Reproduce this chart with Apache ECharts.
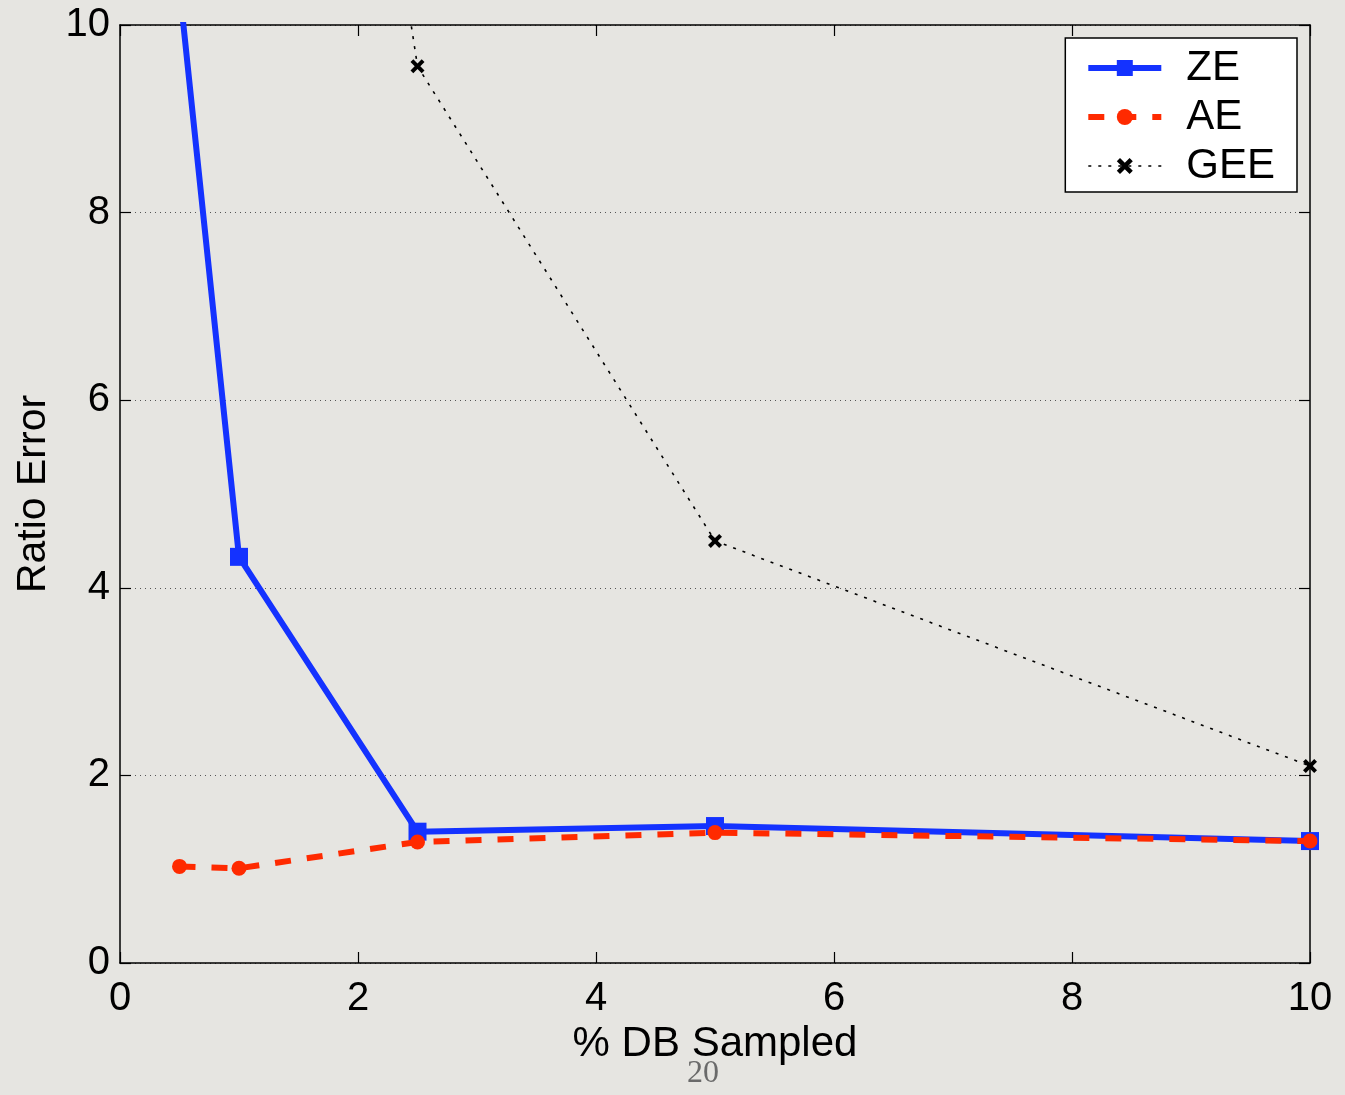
<!DOCTYPE html>
<html><head><meta charset="utf-8">
<script src="https://cdn.jsdelivr.net/npm/echarts@6/dist/echarts.min.js"></script>
<style>
html,body{margin:0;padding:0;background:#e6e5e1;}
#c{width:1345px;height:1095px;}
</style></head>
<body><div id="c"></div>
<script>
const xTicks = [0, 2, 4, 6, 8, 10];
const yTicks = [0, 2, 4, 6, 8, 10];
const zeX = [0.5, 1, 2.5, 5, 10];
const zeY = [10.4, 4.33, 1.40, 1.46, 1.30];
const aeX = [0.5, 1, 2.5, 5, 10];
const aeY = [1.03, 1.01, 1.29, 1.39, 1.30];
const geeX = [1, 2.5, 5, 10];
const geeY = [22, 9.56, 4.50, 2.10];
const seriesNames = ['ZE', 'AE', 'GEE'];
const xName = '% DB Sampled';
const yName = 'Ratio Error';
const pageNumber = '20';

const pair = (xs, ys) => xs.map((x, i) => [x, ys[i]]);
const FONT = '"Liberation Sans", Arial, Helvetica, sans-serif';
const crossPath = 'path://M2,0 L5,3 L8,0 L10,2 L7,5 L10,8 L8,10 L5,7 L2,10 L0,8 L3,5 L0,2 Z';
const BLUE = '#1432ff', RED = '#ff2a00';

const chart = echarts.init(document.getElementById('c'), null, {renderer: 'canvas'});
const axisCommon = {
  type: 'value', min: 0, max: 10, interval: 2,
  axisLine: {show: true, onZero: false, lineStyle: {color: '#000', width: 1.5}},
  axisTick: {show: true, inside: true, length: 11, lineStyle: {color: '#000', width: 1.2}},
};
chart.setOption({
  backgroundColor: '#e6e5e1',
  animation: false,
  grid: {left: 120, top: 25, right: 35, bottom: 132, containLabel: false},
  xAxis: [
    Object.assign({}, axisCommon, {
      position: 'bottom',
      name: xName, nameLocation: 'middle', nameGap: 60,
      nameTextStyle: {fontFamily: FONT, fontSize: 42, color: '#000'},
      axisLabel: {fontFamily: FONT, fontSize: 40, color: '#000', margin: 16},
      splitLine: {show: false}
    }),
    Object.assign({}, axisCommon, {
      position: 'top', axisLabel: {show: false}, splitLine: {show: false}
    })
  ],
  yAxis: [
    Object.assign({}, axisCommon, {
      position: 'left',
      name: yName, nameLocation: 'middle', nameGap: 57, nameRotate: 90,
      nameTextStyle: {fontFamily: FONT, fontSize: 41, color: '#000'},
      axisLabel: {fontFamily: FONT, fontSize: 40, color: '#000', margin: 10},
      splitLine: {show: true, lineStyle: {color: '#555', width: 1, type: [1, 4]}}
    }),
    Object.assign({}, axisCommon, {
      position: 'right', axisLabel: {show: false}, splitLine: {show: false}
    })
  ],
  legend: {
    right: 48, top: 38, orient: 'vertical',
    backgroundColor: '#ffffff', borderColor: '#000', borderWidth: 1.5,
    padding: [9, 22, 5, 20],
    itemWidth: 73, itemHeight: 20, itemGap: 7,
    textStyle: {fontFamily: FONT, fontSize: 42, color: '#000', padding: [0, 0, 0, 20]},
    data: [
      {name: seriesNames[0], lineStyle: {width: 6, color: BLUE}},
      {name: seriesNames[1], lineStyle: {width: 6, color: RED, type: [16, 16]}},
      {name: seriesNames[2], lineStyle: {width: 1.6, color: '#000', type: [3, 7]}}
    ]
  },
  graphic: [{
    type: 'text', left: 687, top: 1058,
    style: {text: pageNumber, font: '32px "Liberation Serif", "DejaVu Serif", serif', fill: '#6a6a6a'}
  }],
  series: [
    {
      name: seriesNames[0], type: 'line', data: pair(zeX, zeY), z: 3,
      lineStyle: {color: BLUE, width: 6},
      itemStyle: {color: BLUE},
      symbol: 'rect', symbolSize: 18, showSymbol: true
    },
    {
      name: seriesNames[1], type: 'line', data: pair(aeX, aeY), z: 4,
      lineStyle: {color: RED, width: 6, type: [16, 16]},
      itemStyle: {color: RED},
      symbol: 'circle', symbolSize: 15
    },
    {
      name: seriesNames[2], type: 'line', data: pair(geeX, geeY), z: 2,
      lineStyle: {color: '#000', width: 1.6, type: [3, 7]},
      itemStyle: {color: '#000'},
      symbol: crossPath, symbolSize: 14
    }
  ]
});
</script></body></html>
